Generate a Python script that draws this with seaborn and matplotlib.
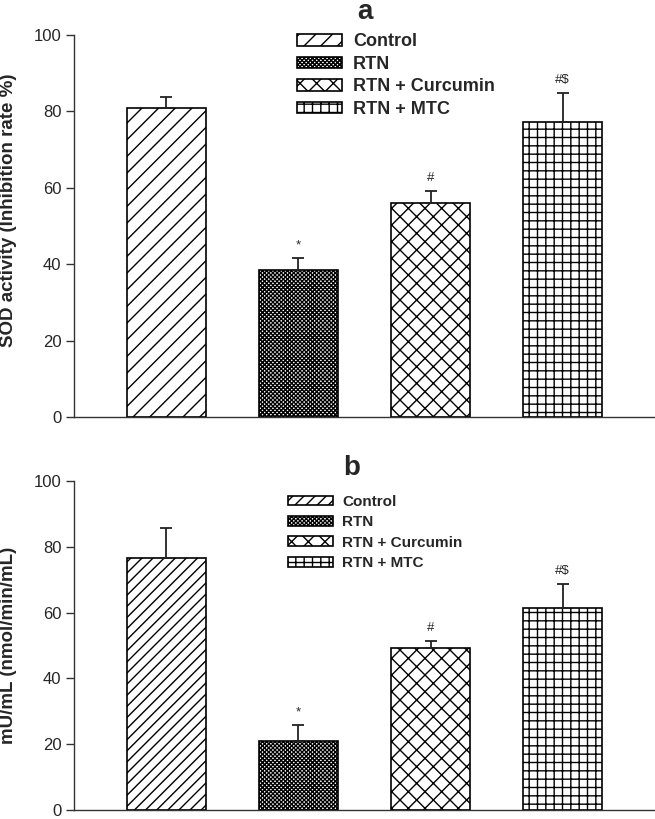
import matplotlib
matplotlib.use('Agg')
import matplotlib.pyplot as plt
import seaborn as sns
import numpy as np
import pandas as pd

# data
groups = ['Control', 'RTN', 'RTN + Curcumin', 'RTN + MTC']
sod_mean = [80.8, 38.6, 56.0, 77.3]
sod_err = [3.0, 2.9, 3.1, 7.6]
sod_marks = ['', '*', '#', '#$']
mu_mean = [76.5, 21.1, 49.2, 61.5]
mu_err = [9.2, 4.6, 2.1, 7.1]
mu_marks = ['', '*', '#', '#$']

hatches_a = ['//', 'xxxxxxxx', 'xx', '++']
hatches_b = ['///', 'xxxxxxxx', 'xx', '++']

sns.set_theme(style='ticks')
plt.rcParams['font.family'] = ['Liberation Sans', 'DejaVu Sans']
plt.rcParams['hatch.linewidth'] = 1.0


def draw_panel(ax, means, errs, marks, hatches, ylabel, label_y, leg_anchor, leg_size,
               handle_len, leg_space):
    df = pd.DataFrame({'group': groups, 'value': means})
    sns.barplot(data=df, x='group', y='value', hue='group', order=groups, hue_order=groups,
                width=0.6, legend=False, errorbar=None, ax=ax)
    bars = [c[0] for c in ax.containers]
    for bar, h in zip(bars, hatches):
        bar.set_facecolor('white')
        bar.set_edgecolor('black')
        bar.set_hatch(h)
        bar.set_linewidth(1.2)
    xs = [b.get_x() + b.get_width() / 2 for b in bars]
    ax.errorbar(xs, means, yerr=[np.zeros(len(errs)), errs], fmt='none', ecolor='#222222',
                elinewidth=1.3, capsize=4.5, capthick=1.3, zorder=5)
    for x, m, e, t in zip(xs, means, errs, marks):
        ax.annotate(t, (x, m + e), xytext=(0, 5), textcoords='offset points',
                    ha='center', va='bottom', fontsize=9.5)

    ax.set_xlim(-0.7, 3.7)
    ax.set_ylim(0, 100)
    ax.set_yticks(range(0, 101, 20))
    ax.set_xticks([])
    ax.set_xlabel('')
    ax.set_ylabel(ylabel, fontweight='bold', fontsize=13.5)
    ax.yaxis.set_label_coords(-0.098, label_y)
    sns.despine(ax=ax)
    for s in ['left', 'bottom']:
        ax.spines[s].set_color('#333333')
        ax.spines[s].set_linewidth(1.0)
    ax.tick_params(axis='y', length=6, width=1, labelsize=12, color='#333333', pad=3)

    ax.legend(handles=bars, labels=groups, loc='upper left', bbox_to_anchor=leg_anchor,
              frameon=False, prop={'weight': 'bold', 'size': leg_size},
              handlelength=handle_len, handleheight=0.6, handletextpad=0.6,
              labelspacing=leg_space, borderpad=0, borderaxespad=0)


fig = plt.figure(figsize=(6.55, 8.19), dpi=100)
ax_a = fig.add_axes([74 / 655, 1 - 417 / 819, 581 / 655, 382 / 819])
ax_b = fig.add_axes([74 / 655, 1 - 810 / 819, 581 / 655, 329 / 819])

draw_panel(ax_a, sod_mean, sod_err, sod_marks, hatches_a,
           'SOD activity (Inhibition rate %)', 0.54, (0.384, 1.004), 13, 2.5, 0.3)
draw_panel(ax_b, mu_mean, mu_err, mu_marks, hatches_b,
           'mU/mL (nmol/min/mL)', 0.5, (0.368, 0.958), 11, 2.95, 0.42)

fig.text(365 / 655, 1 - 12 / 819, 'a', ha='center', va='center', fontsize=20, fontweight='bold')
fig.text(352 / 655, 1 - 468 / 819, 'b', ha='center', va='center', fontsize=20, fontweight='bold')

fig.savefig('out.png', dpi=100)
